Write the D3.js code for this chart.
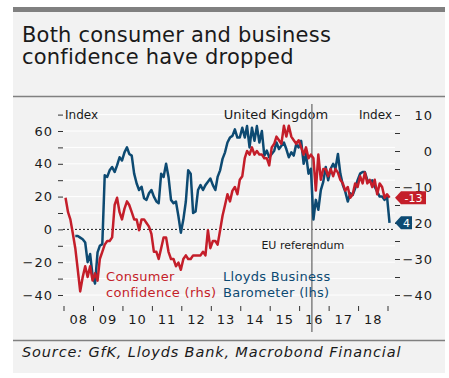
<!DOCTYPE html>
<html>
<head>
<meta charset="utf-8">
<script src="https://cdn.jsdelivr.net/npm/d3@7"></script>
<style>
  body { margin: 0; background: #fff; }
  svg text { font-family: "DejaVu Sans", sans-serif; fill: #1a1a1a; }
</style>
</head>
<body>
<svg id="chart" width="449" height="378"></svg>
<script>
////////////////////////////////////////////////////////////////////////////
//////////////////////////////   data   ////////////////////////////////////
// GfK consumer confidence (rhs), monthly from Jan 2008
var consumerStart = [2008, 0];
var consumerConf = [
  -13, -17, -19, -23, -27, -33, -39, -35, -32, -35, -32, -36,   // 2008
  -34, -36, -30, -28, -26, -25, -25, -24, -15, -13, -17, -19,   // 2009
  -16, -14, -15, -17, -19, -19, -22, -19, -19, -20, -21, -23,   // 2010
  -28, -28, -30, -27, -24, -24, -28, -30, -30, -32, -31, -33,   // 2011
  -30, -29, -30, -30, -29, -29, -29, -29, -28, -29, -22, -27,   // 2012
  -25, -25, -26, -22, -18, -15, -12, -14, -11, -10, -12, -8,    // 2013
  -7, -2, 0, -1, 1, -1, 0, -1, -1, -2, -2, -4,                  // 2014
  1, 2, 4, 3, 2, 7, 4, 7, 4, 3, 2, 3,                           // 2015
  1, -1, 1, -2, -1, -2, -11, -1, -8, -5, -5, -7,                // 2016
  -5, -7, -5, -6, -8, -9, -11, -10, -13, -12, -9, -10,          // 2017
  -7, -9, -6, -9, -8, -10, -8, -12, -9, -10, -13, -12,          // 2018
  -13                                                           // 2019
];

// Lloyds Business Barometer (lhs), monthly from May 2008
var businessStart = [2008, 4];
var businessBaro = [
  -4, -4, -5, -6, -8, -20, -15, -28,                            // 2008
  -33, -14, -10, -9, 33, 32, 36, 38, 35, 39, 44, 42,            // 2009
  47, 50, 46, 45, 34, 28, 24, 26, 19, 18, 22, 24,               // 2010
  20, 17, 16, 34, 32, 40, 32, 18, 16, 17, 8, -2,                // 2011
  6, 17, 36, 34, 10, 11, 24, 27, 24, 27, 29, 31,                // 2012
  27, 24, 32, 36, 43, 47, 53, 56, 57, 61, 56, 56,               // 2013
  62, 56, 63, 50, 62, 54, 63, 53, 60, 45, 48, 44,               // 2014
  46, 48, 53, 49, 51, 53, 49, 44, 47, 45, 52, 50,               // 2015
  54, 40, 46, 34, 37, 6, 18, 12, 24, 29, 38, 30,                // 2016
  37, 40, 37, 46, 34, 27, 23, 17, 22, 21, 25, 30,               // 2017
  34, 35, 35, 30, 29, 30, 26, 23, 20, 20, 18, 20,               // 2018
  4                                                             // 2019
];

var yearLabels = ["08", "09", "10", "11", "12", "13", "14", "15", "16", "17", "18"];
var leftTicks = [-40, -30, -20, -10, 0, 10, 20, 30, 40, 50, 60, 70];
var rightTicks = [-40, -35, -30, -25, -20, -15, -10, -5, 0, 5, 10];
var refDate = new Date(2016, 5, 1);

var titleLines = ["Both consumer and business", "confidence have dropped"];
var sourceText = "Source: GfK, Lloyds Bank, Macrobond Financial";

var BLUE = "#0d4a72";
var RED = "#c41e2a";
var GREY = "#808080";

////////////////////////////////////////////////////////////////////////////
//////////////////////////////   frame   ///////////////////////////////////
var svg = d3.select("#chart");

svg.append("rect").attr("x", 13).attr("y", 7).attr("width", 432).attr("height", 366)
  .attr("fill", "#f2f2f2");
svg.append("rect").attr("x", 13).attr("y", 7).attr("width", 432).attr("height", 5)
  .attr("fill", GREY);
svg.append("line").attr("x1", 13).attr("x2", 445).attr("y1", 96.5).attr("y2", 96.5)
  .attr("stroke", GREY).attr("stroke-width", 1.5);
svg.append("line").attr("x1", 13).attr("x2", 445).attr("y1", 340.5).attr("y2", 340.5)
  .attr("stroke", GREY).attr("stroke-width", 1.5);

svg.selectAll(".title").data(titleLines).enter()
  .append("text").attr("class", "title")
  .attr("x", 22).attr("y", function(d, i) { return 42 + i * 22; })
  .attr("font-size", "21px")
  .attr("letter-spacing", "0.2px")
  .text(function(d) { return d; });

svg.append("text")
  .attr("x", 22).attr("y", 357)
  .attr("font-size", "14.5px").attr("font-style", "italic")
  .attr("letter-spacing", "0.85px")
  .text(sourceText);

////////////////////////////////////////////////////////////////////////////
//////////////////////////////   scales   //////////////////////////////////
var x = d3.scaleTime()
  .domain([new Date(2008, 0, 1), new Date(2019, 0, 1)])
  .range([64, 388]);
var yL = d3.scaleLinear().domain([-40, 70]).range([295, 114.6]);
var yR = d3.scaleLinear().domain([-40, 10]).range([295, 115]);

function toSeries(start, values) {
  return values.map(function(v, i) {
    return { date: new Date(start[0], start[1] + i, 20), value: v };
  });
}
var consumerData = toSeries(consumerStart, consumerConf);
var businessData = toSeries(businessStart, businessBaro);

var plotL = 63, plotR = 395;

// gridlines
svg.append("g").selectAll("line").data(leftTicks).enter()
  .append("line")
  .attr("x1", plotL).attr("x2", plotR)
  .attr("y1", function(d) { return yL(d); }).attr("y2", function(d) { return yL(d); })
  .attr("stroke", "#fff").attr("stroke-width", 1);

// zero line
svg.append("line")
  .attr("x1", plotL).attr("x2", plotR)
  .attr("y1", yL(0)).attr("y2", yL(0))
  .attr("stroke", "#1a1a1a").attr("stroke-width", 1).attr("stroke-dasharray", "2,2");

////////////////////////////////////////////////////////////////////////////
//////////////////////////////   axes   ////////////////////////////////////
var fmt = d3.format("d");
var leftAxis = svg.append("g")
  .attr("transform", "translate(" + plotL + ",0)")
  .call(d3.axisLeft(yL).tickValues(leftTicks).tickSize(5).tickPadding(5)
    .tickFormat(function(d) { return (d % 20 === 0 && d < 70) ? fmt(d) : ""; }));
leftAxis.select(".domain").remove();

var rightAxis = svg.append("g")
  .attr("transform", "translate(" + plotR + ",0)")
  .call(d3.axisRight(yR).tickValues(rightTicks).tickSize(5).tickPadding(5)
    .tickFormat(function(d) { return d % 10 === 0 ? fmt(d) : ""; }));
rightAxis.select(".domain").remove();
rightAxis.selectAll("text").attr("text-anchor", "end").attr("x", 38);

svg.selectAll(".tick line").attr("stroke", "#333");
svg.selectAll(".tick text")
  .attr("font-size", "13px").attr("letter-spacing", "1px")
  .attr("fill", "#1a1a1a")
  .style("font-family", '"DejaVu Sans", sans-serif');

// x axis
var years = d3.range(2008, 2020);
svg.append("g").selectAll("line").data(years).enter()
  .append("line")
  .attr("x1", function(d) { return x(new Date(d, 0, 1)); })
  .attr("x2", function(d) { return x(new Date(d, 0, 1)); })
  .attr("y1", 306).attr("y2", 311)
  .attr("stroke", "#333");
svg.append("g").selectAll("text").data(yearLabels).enter()
  .append("text")
  .attr("x", function(d, i) { return x(new Date(2008 + i, 6, 1)); })
  .attr("y", 324)
  .attr("text-anchor", "middle")
  .attr("font-size", "13px").attr("letter-spacing", "1px")
  .text(function(d) { return d; });

// axis titles
svg.append("text").attr("x", 65).attr("y", 119).attr("font-size", "12px").text("Index");
svg.append("text").attr("x", 392).attr("y", 119).attr("font-size", "12px")
  .attr("text-anchor", "end").text("Index");
svg.append("text").attr("x", 276).attr("y", 119).attr("font-size", "13px")
  .attr("text-anchor", "middle").text("United Kingdom");

// referendum marker
var refX = x(refDate);
svg.append("line")
  .attr("x1", refX).attr("x2", refX).attr("y1", 104).attr("y2", 332)
  .attr("stroke", GREY).attr("stroke-width", 1.5);
svg.append("text").attr("x", refX - 9).attr("y", 249)
  .attr("font-size", "11px").attr("text-anchor", "middle").text("EU referendum");

////////////////////////////////////////////////////////////////////////////
//////////////////////////////   lines   ///////////////////////////////////
var lineL = d3.line().x(function(d) { return x(d.date); }).y(function(d) { return yL(d.value); });
var lineR = d3.line().x(function(d) { return x(d.date); }).y(function(d) { return yR(d.value); });

svg.append("path").datum(businessData)
  .attr("d", lineL).attr("fill", "none")
  .attr("stroke", BLUE).attr("stroke-width", 2.5).attr("stroke-linejoin", "round");
svg.append("path").datum(consumerData)
  .attr("d", lineR).attr("fill", "none")
  .attr("stroke", RED).attr("stroke-width", 2.5).attr("stroke-linejoin", "round");

// legend texts
var legend = [
  { lines: ["Consumer", "confidence (rhs)"], x: 106, color: RED },
  { lines: ["Lloyds Business", "Barometer (lhs)"], x: 223, color: BLUE }
];
legend.forEach(function(l) {
  l.lines.forEach(function(t, i) {
    svg.append("text").attr("x", l.x).attr("y", 281 + i * 16)
      .attr("font-size", "13px").attr("letter-spacing", "0.3px")
      .style("fill", l.color).text(t);
  });
});

// last-value tags
function endTag(yPos, label, color, w) {
  var h = 13, tip = plotR;
  var pts = [[tip, yPos], [tip + 6, yPos - h / 2], [tip + 6 + w, yPos - h / 2],
             [tip + 6 + w, yPos + h / 2], [tip + 6, yPos + h / 2]];
  svg.append("polygon").attr("points", pts.map(function(p) { return p.join(","); }).join(" "))
    .attr("fill", color);
  svg.append("text").attr("x", tip + 6 + w / 2).attr("y", yPos + 4)
    .attr("text-anchor", "middle").attr("font-size", "11px")
    .style("fill", "#fff").text(label);
}
var lastC = consumerData[consumerData.length - 1];
var lastB = businessData[businessData.length - 1];
endTag(yR(lastC.value), fmt(lastC.value).replace("\u2212", "-"), RED, 25);
endTag(yL(lastB.value), fmt(lastB.value), BLUE, 11);
</script>
</body>
</html>
